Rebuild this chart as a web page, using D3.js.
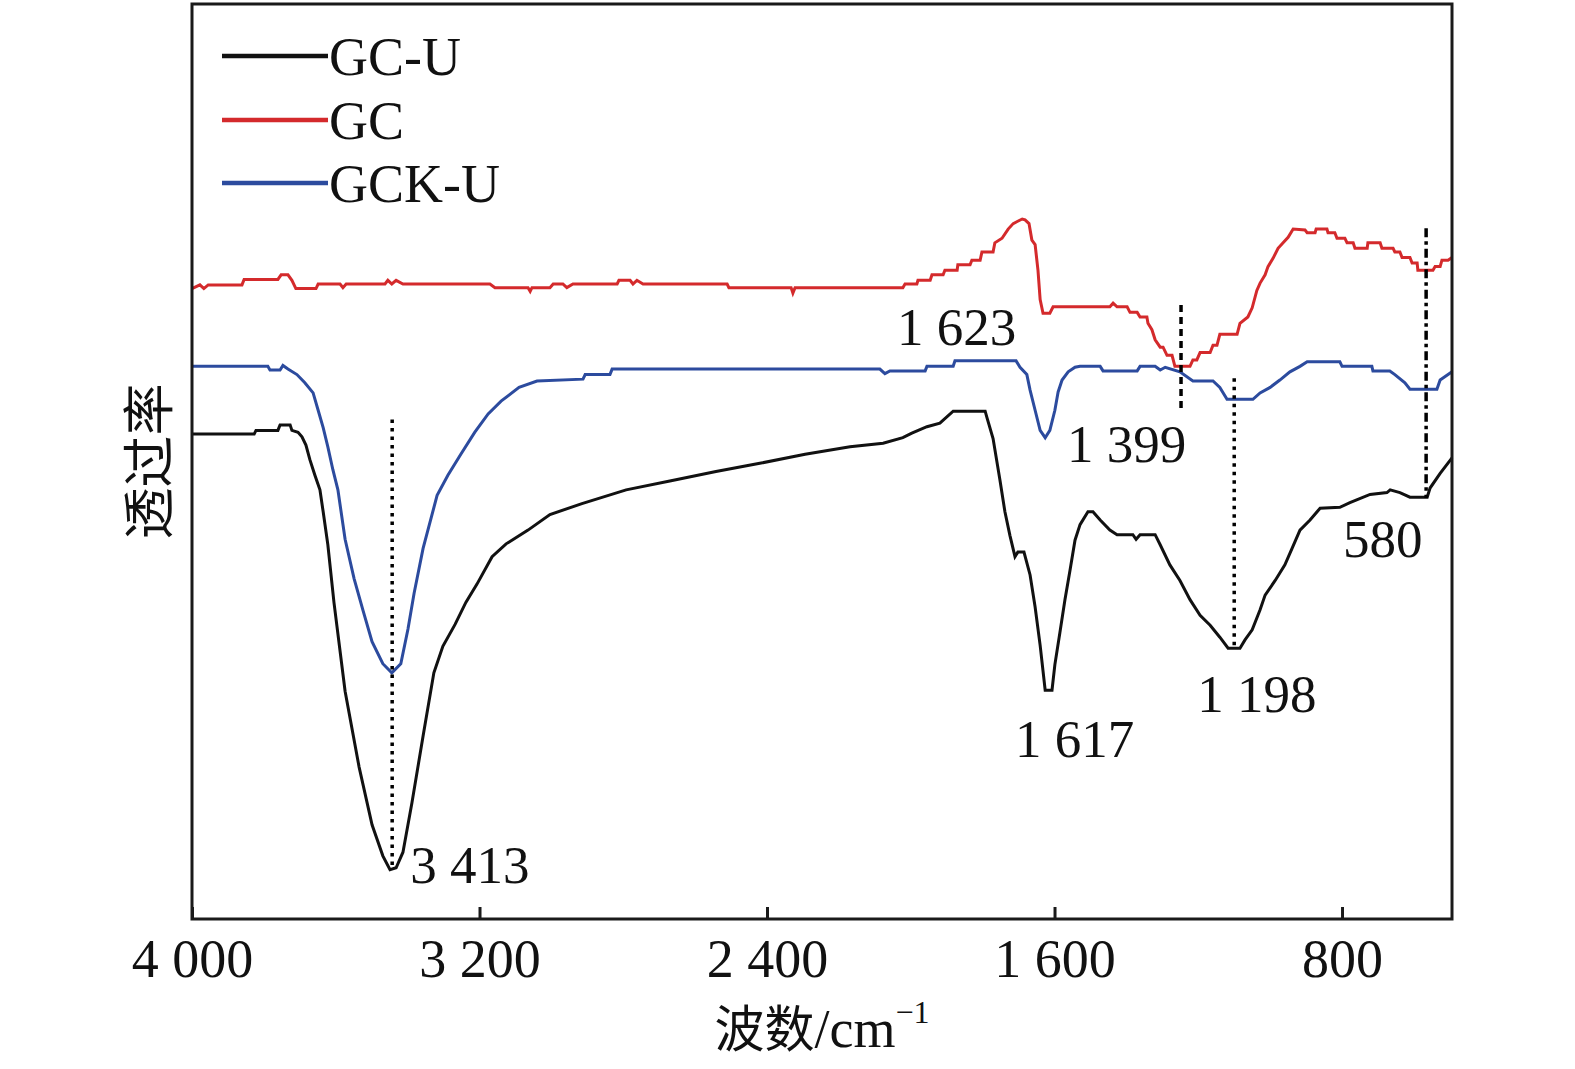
<!DOCTYPE html>
<html>
<head>
<meta charset="utf-8">
<script src="https://cdn.jsdelivr.net/npm/d3@7"></script>
<style>
  html, body { margin: 0; padding: 0; background: #fff; }
  svg { display: block; }
</style>
</head>
<body>
<svg id="chart" width="1575" height="1069"></svg>
<script>
// ---- Data: wavenumber (cm^-1), transmittance (arbitrary %, offset curves) ----
const seriesNames = ["GC-U", "GC", "GCK-U"];
const seriesColors = ["#111111", "#d42a2c", "#2c4b9e"];

const gcuData = [
  [4000,53.0],[3827,53.0],[3822,53.4],[3761,53.4],[3755,54.0],[3727,54.0],[3722,53.4],[3705,53.2],
  [3694,52.7],[3683,51.8],[3672,50.2],[3658,48.5],[3644,46.9],[3635,44.5],[3622,40.9],[3605,34.6],
  [3574,24.9],[3535,16.6],[3499,10.3],[3469,6.9],[3449,5.4],[3432,5.6],[3413,7.3],[3388,12.7],
  [3357,20.0],[3327,26.9],[3302,29.8],[3268,32.2],[3238,34.6],[3207,36.6],[3165,39.6],[3126,41.0],
  [3065,42.5],[3004,44.2],[2915,45.4],[2792,46.9],[2667,47.9],[2542,48.9],[2420,49.8],[2294,50.8],
  [2169,51.6],[2077,52.0],[2022,52.6],[1997,53.1],[1955,53.8],[1919,54.2],[1882,55.5],[1793,55.5],
  [1788,54.8],[1771,52.5],[1752,48.0],[1738,44.5],[1724,41.9],[1710,39.6],[1702,40.1],[1685,40.1],
  [1668,37.6],[1654,34.1],[1640,29.9],[1626,25.0],[1607,25.0],[1599,27.8],[1585,31.3],[1571,34.9],
  [1557,38.1],[1543,41.4],[1529,43.1],[1507,44.5],[1493,44.5],[1473,43.6],[1446,42.5],[1426,42.0],
  [1382,42.0],[1373,41.5],[1362,42.0],[1320,42.0],[1306,40.9],[1279,38.7],[1251,37.0],[1223,34.9],
  [1195,33.2],[1167,32.1],[1140,30.8],[1117,29.6],[1084,29.6],[1070,30.5],[1050,31.6],[1028,33.8],
  [1014,35.4],[986,37.0],[959,38.7],[939,40.5],[917,42.5],[889,43.6],[861,44.9],[806,45.0],
  [778,45.5],[722,46.4],[675,46.6],[666,46.9],[639,46.6],[611,46.1],[563,46.1],[555,47.1],
  [527,48.7],[494,50.4]
];

const gcData = [
  [4000,68.9],[3978,69.3],[3967,68.9],[3955,69.3],[3861,69.3],[3855,69.9],[3761,69.9],[3752,70.4],
  [3733,70.4],[3722,69.8],[3711,68.9],[3655,68.9],[3649,69.4],[3588,69.4],[3580,69.0],[3571,69.4],
  [3463,69.4],[3455,69.8],[3444,69.4],[3432,69.8],[3413,69.4],[3171,69.4],[3157,69.0],[3065,69.0],
  [3059,68.6],[3054,69.0],[3004,69.0],[2995,69.4],[2968,69.4],[2957,69.0],[2940,69.4],[2817,69.4],
  [2812,69.8],[2781,69.8],[2773,69.4],[2762,69.8],[2745,69.4],[2511,69.4],[2506,69.0],[2333,69.0],
  [2328,68.4],[2322,69.0],[2022,69.0],[2016,69.4],[1983,69.4],[1980,69.8],[1946,69.8],[1941,70.4],
  [1910,70.4],[1905,70.9],[1871,70.9],[1869,71.5],[1835,71.5],[1830,72.0],[1807,72.0],[1802,72.9],
  [1771,72.9],[1766,73.9],[1746,74.4],[1729,75.4],[1715,76.0],[1690,76.5],[1682,76.4],[1671,76.0],
  [1663,74.2],[1654,73.7],[1646,70.9],[1640,67.7],[1632,66.2],[1613,66.2],[1604,66.9],[1446,66.9],
  [1437,67.3],[1426,66.9],[1398,66.9],[1390,66.3],[1370,66.3],[1362,65.8],[1343,65.8],[1340,65.1],
  [1329,64.4],[1320,63.3],[1306,62.5],[1298,62.5],[1287,61.6],[1273,61.6],[1265,60.4],[1223,60.4],
  [1215,61.1],[1204,61.1],[1195,61.9],[1167,61.9],[1159,62.7],[1148,62.7],[1140,63.9],[1092,63.9],
  [1084,65.1],[1062,65.8],[1050,66.8],[1037,68.7],[1028,69.5],[1014,70.4],[1006,71.3],[992,72.2],
  [978,73.3],[964,73.9],[950,74.5],[936,75.4],[903,75.3],[897,75.0],[875,75.0],[872,75.4],
  [842,75.4],[839,75.0],[820,75.0],[814,74.4],[792,74.4],[786,73.9],[769,73.9],[764,73.3],
  [730,73.3],[728,73.9],[694,73.9],[689,73.3],[658,73.3],[653,72.9],[639,72.9],[633,72.3],
  [611,72.3],[605,71.7],[591,71.7],[589,70.9],[547,70.9],[541,71.3],[527,71.3],[522,72.0],
  [505,72.0],[494,72.3]
];

const gckuData = [
  [4000,60.4],[3789,60.4],[3783,60.0],[3755,60.0],[3747,60.5],[3733,60.1],[3708,59.5],[3686,58.6],
  [3663,57.5],[3649,55.6],[3635,53.7],[3622,51.6],[3608,49.1],[3594,46.9],[3574,41.5],[3549,37.2],
  [3524,33.7],[3499,30.3],[3469,27.9],[3444,26.9],[3419,27.9],[3399,31.7],[3382,35.6],[3357,40.5],
  [3318,46.3],[3288,48.5],[3252,50.8],[3213,53.2],[3176,55.2],[3140,56.6],[3090,58.1],[3040,58.8],
  [2912,59.0],[2906,59.5],[2837,59.5],[2831,60.1],[2086,60.1],[2072,59.6],[2058,59.9],[1960,59.9],
  [1955,60.4],[1882,60.4],[1877,61.0],[1707,61.0],[1696,60.3],[1677,59.5],[1668,57.8],[1654,55.6],
  [1640,53.4],[1626,52.6],[1613,53.4],[1599,55.6],[1590,57.6],[1579,58.9],[1562,59.8],[1543,60.3],
  [1529,60.4],[1473,60.4],[1465,59.9],[1370,59.9],[1362,60.4],[1320,60.4],[1306,60.0],[1292,60.3],
  [1251,59.8],[1215,58.8],[1159,58.8],[1140,58.1],[1120,56.8],[1048,56.8],[1028,57.5],[1000,58.1],
  [973,58.9],[945,59.8],[917,60.4],[897,60.9],[806,60.9],[800,60.4],[717,60.4],[714,59.9],
  [667,59.9],[653,59.5],[625,58.6],[611,57.9],[536,57.9],[527,58.9],[494,59.8]
];

const xTickValues = [4000, 3200, 2400, 1600, 800];
const xTickLabels = ["4 000", "3 200", "2 400", "1 600", "800"];

// peak marker lines: [wavenumber, T top, T bottom, style]
const markerLines = [
  [3443, 54.6, 5.4, "dot"],
  [1248, 67.1, 55.8, "dash"],
  [1100, 59.1, 29.7, "dot"],
  [566, 75.5, 46.0, "dashdot"]
];
// peak labels: [text, wavenumber (left edge), T (baseline)]
const peakLabels = [
  ["3 413", 3393, 3.9],
  ["1 623", 2038, 62.7],
  ["1 399", 1565, 49.9],
  ["1 617", 1710, 17.7],
  ["1 198", 1203, 22.6],
  ["580", 797, 39.6]
];

// ---- Drawing ----
const svg = d3.select("#chart");
const W = 1575, H = 1069;
const m = { left: 192, right: 1452, top: 4, bottom: 919 };
const serif = "'Liberation Serif', 'Times New Roman', 'DejaVu Serif', serif";
const cjk = "'Noto Sans CJK SC', 'Liberation Serif', serif";
const fs = 53;

svg.append("rect").attr("width", W).attr("height", H).attr("fill", "#fff");

const x = d3.scaleLinear().domain([4000, 494]).range([m.left, m.right]);
const y = d3.scaleLinear().domain([0, 100]).range([m.bottom, m.top]);

const line = d3.line().x(d => x(d[0])).y(d => y(d[1]));

const allSeries = [gcuData, gcData, gckuData];
// draw order: red, blue, black
[1, 2, 0].forEach(i => {
  svg.append("path")
    .datum(allSeries[i])
    .attr("fill", "none")
    .attr("stroke", seriesColors[i])
    .attr("stroke-width", 3)
    .attr("stroke-linejoin", "miter")
    .attr("d", line);
});

// marker lines
const dashMap = { dot: "3.5,5", dash: "7,5", dashdot: "9,4,3.5,4" };
markerLines.forEach(ml => {
  svg.append("line")
    .attr("x1", x(ml[0])).attr("x2", x(ml[0]))
    .attr("y1", y(ml[1])).attr("y2", y(ml[2]))
    .attr("stroke", "#000")
    .attr("stroke-width", 3.5)
    .attr("stroke-dasharray", dashMap[ml[3]]);
});

// peak labels
peakLabels.forEach(pl => {
  svg.append("text")
    .attr("x", x(pl[1])).attr("y", y(pl[2]))
    .attr("font-family", serif).attr("font-size", fs)
    .attr("fill", "#111")
    .text(pl[0]);
});

// frame
svg.append("rect")
  .attr("x", m.left).attr("y", m.top)
  .attr("width", m.right - m.left).attr("height", m.bottom - m.top)
  .attr("fill", "none").attr("stroke", "#1a1a1a").attr("stroke-width", 3);

// x axis with inward ticks
const xAxis = d3.axisBottom(x)
  .tickValues(xTickValues)
  .tickSizeInner(-12)
  .tickSizeOuter(0)
  .tickPadding(20)
  .tickFormat((d, i) => xTickLabels[i]);
const gx = svg.append("g").attr("transform", `translate(0,${m.bottom})`).call(xAxis);
gx.select(".domain").remove();
gx.selectAll(".tick line").attr("stroke", "#1a1a1a").attr("stroke-width", 3);
gx.selectAll(".tick text")
  .attr("font-family", serif).attr("font-size", 54).attr("fill", "#111");

// x axis title
const xt = svg.append("text")
  .attr("x", (m.left + m.right) / 2).attr("y", 1047)
  .attr("text-anchor", "middle")
  .attr("font-size", fs).attr("fill", "#111");
xt.append("tspan").attr("font-family", cjk).attr("font-size", 50).text("波数");
xt.append("tspan").attr("font-family", serif).attr("font-size", 54).text("/cm");
xt.append("tspan").attr("font-family", serif).attr("font-size", 32).attr("dy", -24).text("−1");

// y axis title
svg.append("text")
  .attr("transform", `translate(168,${(m.top + m.bottom) / 2}) rotate(-90)`)
  .attr("text-anchor", "middle")
  .attr("font-family", cjk).attr("font-size", 52).attr("fill", "#111")
  .text("透过率");

// legend
const legendY = [56, 120, 183];
seriesNames.forEach((name, i) => {
  svg.append("line")
    .attr("x1", 222).attr("x2", 328)
    .attr("y1", legendY[i]).attr("y2", legendY[i])
    .attr("stroke", seriesColors[i]).attr("stroke-width", 4.5);
  svg.append("text")
    .attr("x", 329).attr("y", legendY[i] + 19)
    .attr("font-family", serif).attr("font-size", 54).attr("fill", "#111")
    .text(name);
});
</script>
</body>
</html>
